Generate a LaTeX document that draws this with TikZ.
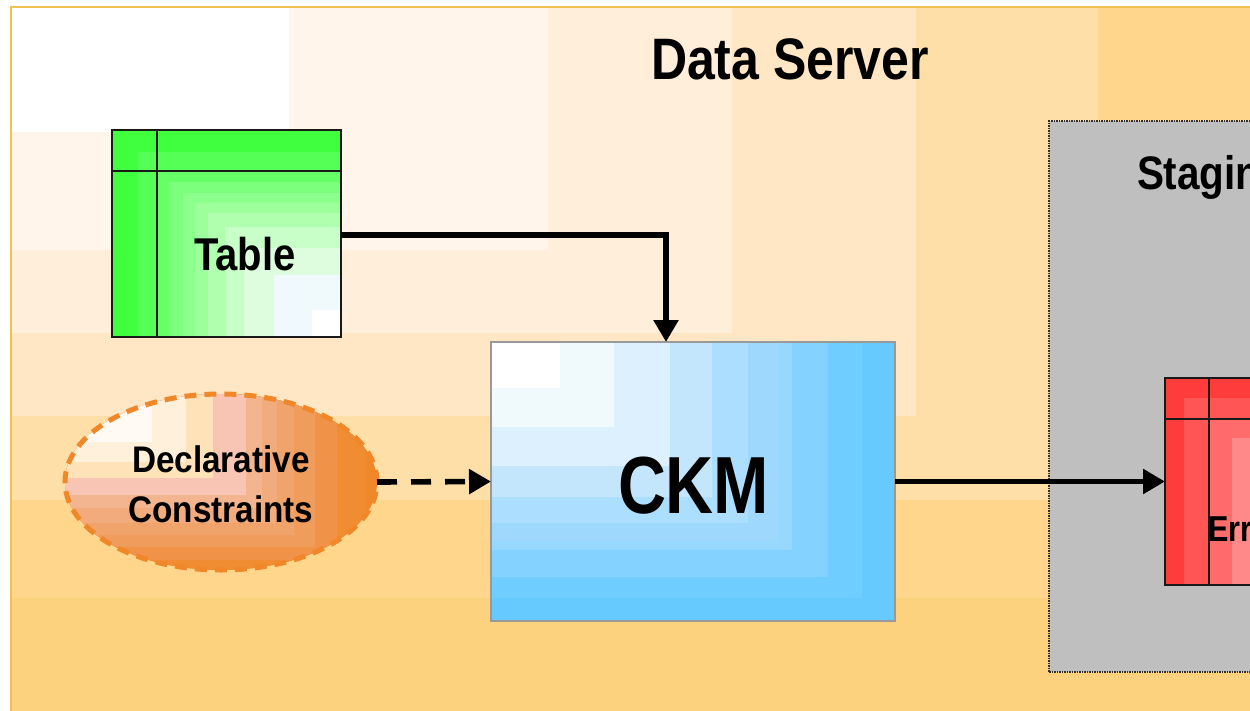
\documentclass[tikz,border=0pt]{standalone}
\usepackage{fontspec}
\usepackage{graphicx}
\setmainfont{Liberation Sans}
\usetikzlibrary{shapes.geometric,arrows.meta}
\newcommand{\squeezed}[3]{\fontsize{#1}{#1}\selectfont\bfseries\scalebox{#2}[1]{#3}}
\tikzset{
  box/.style={rectangle,inner sep=0pt,outer sep=0pt},
  tablebox/.style={box,draw=black!90,line width=1.4pt},
  label text/.style={inner sep=0pt,outer sep=0pt,text=black,anchor=base west},
  conn/.style={draw=black,line width=5.6pt,-{Triangle[length=22pt,width=24pt]}},
}
\newcommand{\bandsBR}[1]{\foreach \bx/\by/\bc in {#1}{\definecolor{bandc}{HTML}{\bc}\fill[bandc] (\bx,\by) rectangle (\fx,\fy);}}
\newcommand{\bandsXY}[1]{\foreach \bx/\by/\bc in {#1}{\definecolor{bandc}{HTML}{\bc}\fill[bandc] (\fx,\fy) rectangle (\bx,\by);}}
\begin{document}
\begin{tikzpicture}[x=1pt,y=-1pt]
\clip (0,0) rectangle (1250,710);
\fill[white] (0,0) rectangle (1250,710);
% container background
\definecolor{bandc}{HTML}{FDD27F}
\fill[bandc] (11,7) rectangle (1270,730);
\def\fx{11}\def\fy{7}
\bandsXY{1270/598/FFD68B,1098/500/FFDFA8,916/416/FFE6C4,732/333/FFEEDA,548/250/FFF5EB,289/132/FFFFFF}
\definecolor{framec}{HTML}{F0C050}
\draw[framec,line width=2pt] (11,730) -- (11,7) -- (1270,7);
\node[label text] (title) at (651,79) {\squeezed{58.5}{.855}{Data Server}};
% staging area
\definecolor{stagefill}{HTML}{BFBFBF}
\definecolor{stageline}{HTML}{303030}
\node[box,fill=stagefill,draw=stageline,line width=2.5pt,dash pattern=on 1.5pt off 1pt,
  minimum width=260pt,minimum height=551pt] (stage) at (1179,396.5) {};
\node[label text] (stagetext) at (1137,189) {\squeezed{47}{.86}{Stagin}};
% table
\definecolor{bandc}{HTML}{3FFF3F}
\fill[bandc] (112,130) rectangle (341,337);
\def\fx{341}\def\fy{337}
\bandsBR{137.5/152/55FF55,157/171/66FF66,169/182/7CFF7C,182.5/193/8CFF8C,194.5/203/9CFF9C,208/213/AFFFAF,225/227/C8FFC8,244/248/DEFDDE,274/275/F0F9FB,312/310/FFFFFF}
\node[tablebox,minimum width=229pt,minimum height=207pt] (tbl) at (226.5,233.5) {};
\draw[black!90,line width=1.2pt] (112,171) -- (341,171);
\draw[black!90,line width=1.2pt] (157,130) -- (157,337);
\node[label text] (tabletext) at (194,270) {\squeezed{46}{.87}{Table}};
% ckm
\definecolor{bandc}{HTML}{66CAFF}
\fill[bandc] (491,342) rectangle (895,621);
\def\fx{491}\def\fy{342}
\bandsXY{862/598/6FCDFF,828/577/83D2FF,792/550/97D8FF,778/541/9ED9FD,748/523/ACDFFF,712/497/C4E6FC,670/466/DCF0FE,614/427/F0F9FB,560/388/FFFFFF}
\node[box,draw=gray!80,line width=1.4pt,minimum width=404pt,minimum height=279pt] (ckm) at (693,481.5) {};
\node[label text] (ckmtext) at (618,513) {\squeezed{81}{.82}{CKM}};
% ellipse
\begin{scope}
\clip (221,482) ellipse [x radius=156,y radius=88];
\definecolor{bandc}{HTML}{F0882A}
\fill[bandc] (60,390) rectangle (382,575);
\def\fx{60}\def\fy{390}
\bandsXY{365/572/F08C32,337/560/F09248,315/547/F09C5C,294/535/F1A36C,277/523/F2AB7C,262/508/F3B490,246/495/F8C4B4,213/478/FFE2B8,186/462/FFF0DC,152/442/FFFBF4}
\end{scope}
\definecolor{ellline}{HTML}{F0882A}
\node[ellipse,draw=ellline,line width=5pt,dash pattern=on 12pt off 8pt,inner sep=0pt,outer sep=0pt,
  minimum width=312pt,minimum height=176pt] (ell) at (221,482) {};
\node[inner sep=0pt,outer sep=0pt,align=center,font=\fontsize{37}{50}\selectfont\bfseries] (elltext) at (221,484)
  {\scalebox{.9}[1]{Declarative}\\\scalebox{.9}[1]{Constraints}};
% error table
\definecolor{bandc}{HTML}{FF3C3C}
\fill[bandc] (1165,378) rectangle (1394,585);
\def\fx{1394}\def\fy{585}
\bandsBR{1184/398/FF5555,1209/419/FF6C6C,1232/438/FF8888}
\node[tablebox,minimum width=229pt,minimum height=207pt] (err) at (1279.5,481.5) {};
\draw[black!90,line width=1.2pt] (1165,419) -- (1394,419);
\draw[black!90,line width=1.2pt] (1209,378) -- (1209,585);
\node[label text] (errtext) at (1208,541) {\squeezed{36}{.85}{Err}};
% connectors
\draw[conn] ([yshift=-1.5pt]tbl.east) -| ([xshift=-27pt]ckm.north);
\draw[conn,dash pattern=on 20pt off 14pt] (ell.east) -- (ckm.west);
\draw[conn] (ckm.east) -- (err.west);
\end{tikzpicture}
\end{document}
